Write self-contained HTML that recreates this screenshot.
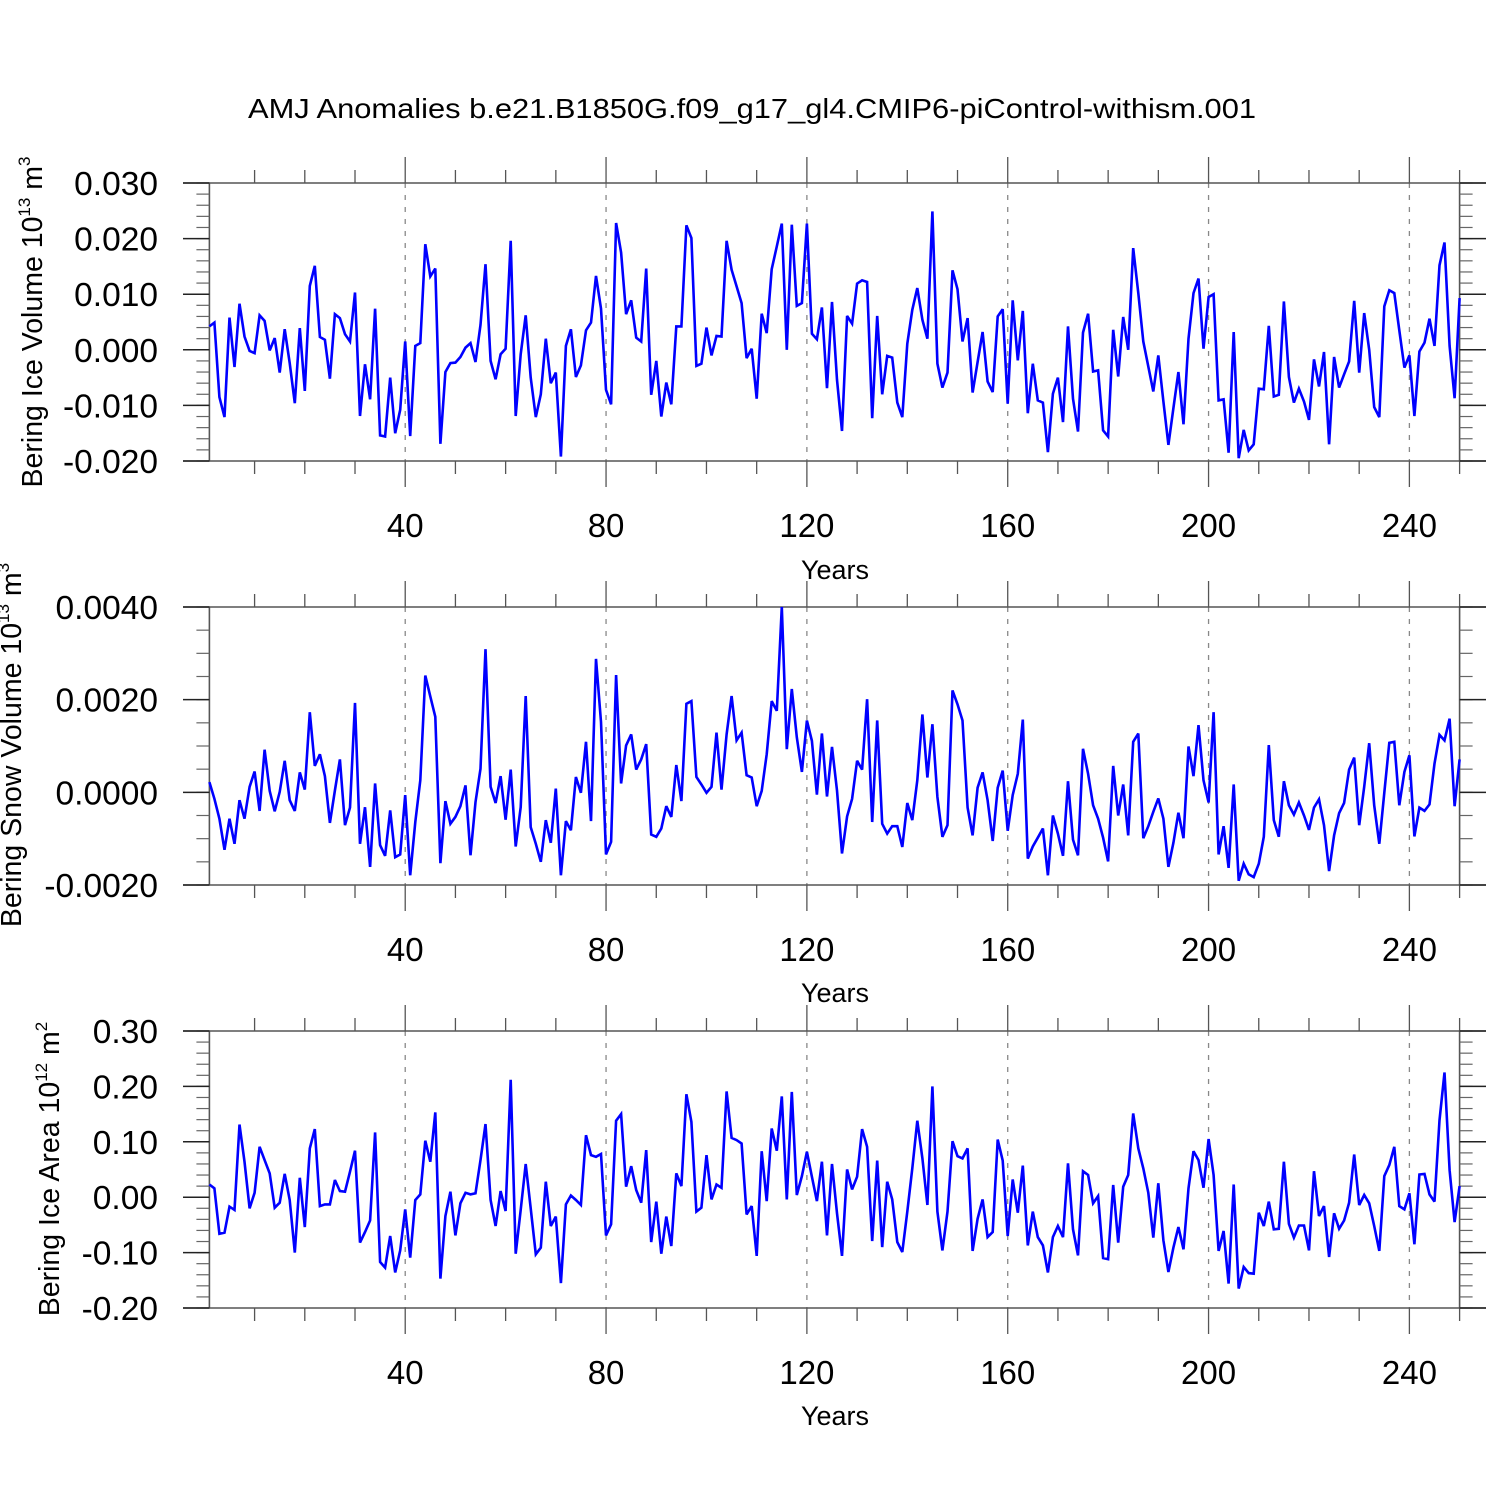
<!DOCTYPE html>
<html><head><meta charset="utf-8">
<style>
html,body{margin:0;padding:0;background:#fff;}
svg{display:block;font-family:"Liberation Sans",Arial,sans-serif;}
</style></head>
<body>
<svg id="chart" width="1500" height="1500" viewBox="0 0 1500 1500" xmlns="http://www.w3.org/2000/svg">
<rect width="1500" height="1500" fill="#fff"/>
<text x="752" y="118" font-size="28" text-anchor="middle" textLength="1008" lengthAdjust="spacingAndGlyphs">AMJ Anomalies b.e21.B1850G.f09_g17_gl4.CMIP6-piControl-withism.001</text>
<g id="panels"></g>
</svg>
<script>
// Years 1..250
const xTickLabels = ["40","80","120","160","200","240"];
const xMajorYears = [40,80,120,160,200,240];

// Panel 1: Bering Ice Volume (units of 0.001 x 10^13 m^3)
const iceVolume = [4.2,4.9,-8.5,-12.1,5.8,-3.1,8.3,2.4,-0.2,-0.6,6.2,5.2,-0.1,2.1,-4.1,3.7,-2.4,-9.6,3.9,-7.4,
11.5,15.1,2.3,1.8,-5.2,6.4,5.7,2.8,1.5,10.3,-11.9,-2.6,-8.9,7.4,-15.4,-15.6,-5.0,-15.0,-10.8,1.5,
-15.5,0.7,1.2,19.0,13.2,14.6,-16.9,-4.0,-2.4,-2.3,-1.3,0.4,1.2,-2.2,4.5,15.4,-2.0,-5.3,-0.8,0.2,
19.6,-11.9,-0.8,6.2,-5.0,-12.1,-8.0,2.0,-6.0,-4.1,-19.2,0.7,3.7,-4.9,-2.8,3.5,4.9,13.3,7.4,-7.2,
-9.8,22.8,17.5,6.4,8.9,2.2,1.5,14.6,-8.1,-2.0,-12.0,-5.9,-9.8,4.2,4.2,22.4,20.1,-2.9,-2.5,4.0,
-1.0,2.5,2.4,19.6,14.4,11.4,8.4,-1.5,0.2,-8.8,6.5,3.0,14.5,18.6,22.7,0.0,22.5,7.9,8.4,22.7,
2.9,1.9,7.6,-6.9,8.6,-5.4,-14.6,6.1,4.7,11.9,12.5,12.2,-12.3,6.1,-8.0,-1.1,-1.4,-9.5,-12.1,1.1,
7.2,11.1,5.4,2.0,24.9,-2.5,-6.8,-4.1,14.3,10.9,1.5,5.7,-7.7,-2.2,3.2,-5.7,-7.6,6.0,7.3,-9.7,
8.9,-1.9,7.0,-11.4,-2.5,-9.1,-9.5,-18.4,-7.9,-5.0,-13.0,4.2,-8.8,-14.7,3.1,6.5,-3.9,-3.7,-14.5,-15.6,
3.6,-4.8,5.9,0.0,18.3,10.2,1.5,-3.0,-7.5,-1.0,-9.3,-17.1,-10.5,-4.0,-13.4,2.0,10.2,12.8,0.2,9.5,
10.0,-9.1,-8.9,-18.5,3.2,-19.5,-14.4,-18.1,-17.0,-7.0,-7.1,4.3,-8.4,-8.1,8.7,-4.9,-9.5,-7.0,-9.3,-12.6,
-1.7,-6.6,-0.4,-17.0,-1.3,-6.8,-4.4,-2.1,8.8,-4.1,6.6,0.0,-10.3,-12.1,7.8,10.7,10.2,3.5,-3.2,-1.0,
-11.9,-0.3,1.3,5.6,0.7,15.2,19.3,0.7,-8.7,9.3];
const p1TickValues = [30,20,10,0,-10,-20];
const p1TickLabels = ["0.030","0.020","0.010","0.000","-0.010","-0.020"];

// Panel 2: Bering Snow Volume (units of 0.0001 x 10^13 m^3)
const snowVolume = [2.2,-1.4,-5.7,-12.4,-5.7,-11.1,-1.7,-5.7,1.2,4.5,-4.0,9.2,0.3,-4.1,0.1,6.8,-1.7,-4.0,4.3,0.6,
17.3,5.7,8.2,3.5,-6.6,0.4,7.1,-7.1,-3.3,19.3,-11.1,-3.2,-16.1,1.9,-11.4,-13.7,-3.9,-14.0,-13.4,-0.6,
-17.9,-6.4,2.6,25.2,20.7,16.3,-15.3,-1.9,-6.8,-5.3,-3.0,1.5,-13.6,-2.1,5.1,30.9,1.2,-2.3,3.5,-5.9,
4.9,-11.7,-3.2,20.8,-7.5,-11.1,-15.0,-6.0,-10.9,0.8,-17.9,-6.2,-8.2,3.3,-0.1,10.9,-6.2,28.8,15.2,-13.4,
-10.7,25.3,1.9,10.1,12.5,4.9,7.1,10.4,-9.1,-9.6,-7.8,-3.0,-5.3,5.9,-1.9,19.1,19.7,3.3,1.7,-0.1,
1.2,12.9,0.6,12.5,20.8,11.2,12.9,3.7,3.2,-3.0,0.3,8.2,19.7,17.6,40.0,9.3,22.3,11.9,4.4,15.5,
11.1,-0.5,12.7,-0.9,9.8,0.4,-13.2,-5.2,-1.4,6.8,4.9,20.1,-6.4,15.5,-6.8,-8.9,-7.3,-7.3,-11.8,-2.3,
-6.0,2.6,16.8,3.2,14.7,-1.0,-9.6,-7.1,22.0,19.0,15.5,-3.3,-9.3,1.0,4.3,-1.7,-10.5,1.0,4.7,-8.3,
-0.6,4.0,15.7,-14.3,-11.7,-9.8,-7.8,-17.9,-5.0,-8.9,-13.7,2.4,-10.2,-13.6,9.4,4.0,-2.8,-5.7,-9.8,-14.9,
5.7,-5.0,1.7,-9.3,10.9,12.7,-9.9,-7.3,-4.2,-1.3,-5.7,-16.1,-10.9,-4.4,-9.9,9.9,3.5,14.5,2.6,-2.2,
17.3,-13.4,-7.3,-16.3,1.7,-19.1,-15.4,-17.7,-18.3,-15.4,-9.6,10.2,-6.0,-9.6,2.4,-2.8,-4.8,-2.2,-5.0,-8.1,
-3.3,-1.5,-7.1,-17.0,-9.3,-4.5,-2.3,4.9,7.5,-7.1,1.2,10.6,-2.8,-11.1,-0.1,10.7,10.9,-2.8,4.4,8.0,
-9.5,-3.3,-4.0,-2.6,6.2,12.4,11.2,15.9,-3.0,7.1];
const p2TickValues = [40,20,0,-20];
const p2TickLabels = ["0.0040","0.0020","0.0000","-0.0020"];

// Panel 3: Bering Ice Area (units of 0.01 x 10^12 m^2)
const iceArea = [2.3,1.6,-6.6,-6.4,-1.7,-2.3,13.1,6.4,-2.0,0.8,9.1,6.7,4.3,-1.9,-1.0,4.2,-0.5,-10.0,3.5,-5.4,
8.8,12.3,-1.6,-1.3,-1.3,3.1,1.1,1.0,4.6,8.4,-8.2,-6.3,-4.2,11.7,-11.7,-12.7,-7.0,-13.6,-9.6,-2.2,
-10.9,-0.5,0.5,10.2,6.4,15.3,-14.7,-3.4,1.0,-6.9,-1.1,0.8,0.5,0.7,6.7,13.2,-0.5,-5.2,1.1,-2.5,
21.2,-10.2,-2.3,6.0,-2.0,-10.3,-9.1,2.8,-5.2,-3.5,-15.5,-1.3,0.3,-0.5,-1.4,11.2,7.6,7.3,7.8,-6.9,
-4.9,13.8,15.0,1.9,5.6,1.3,-1.0,8.5,-8.1,-0.8,-10.2,-3.5,-8.8,4.3,2.0,18.6,13.6,-2.6,-1.9,7.6,
-0.4,2.3,1.7,19.1,10.7,10.3,9.7,-3.1,-1.6,-10.6,8.3,-0.7,12.4,8.4,18.2,-0.4,19.0,0.4,3.8,8.2,
3.7,-0.7,6.4,-6.9,6.0,-2.9,-10.6,5.0,1.4,3.7,12.3,9.1,-7.9,6.6,-9.0,2.8,-0.4,-8.1,-9.9,-2.6,
5.2,13.8,7.0,-1.4,20.0,-2.6,-9.6,-2.6,10.1,7.4,7.0,8.8,-9.7,-3.9,-0.4,-7.2,-6.3,10.4,6.6,-7.0,
3.2,-2.8,5.7,-8.7,-2.6,-7.2,-8.7,-13.6,-7.2,-5.2,-7.2,6.1,-5.8,-10.5,4.7,4.0,-1.1,0.2,-11.0,-11.2,
2.2,-8.2,1.9,4.0,15.1,8.8,5.2,0.8,-7.3,2.5,-7.8,-13.5,-9.1,-5.4,-9.4,1.6,8.3,6.7,1.7,10.5,
4.0,-9.7,-6.1,-15.6,2.3,-16.5,-12.6,-13.7,-13.8,-2.8,-5.2,-0.8,-5.8,-5.7,6.4,-4.8,-7.3,-5.1,-5.1,-9.6,
4.7,-3.4,-1.6,-10.8,-2.9,-5.7,-4.2,-1.0,7.7,-1.4,0.4,-1.1,-5.2,-9.7,3.8,5.8,9.1,-1.6,-2.2,0.7,
-8.5,4.1,4.2,0.5,-0.8,13.9,22.5,4.9,-4.5,2.0];
const p3TickValues = [30,20,10,0,-10,-20];
const p3TickLabels = ["0.30","0.20","0.10","0.00","-0.10","-0.20"];

const NS = "http://www.w3.org/2000/svg";
const L = 209.4, R = 1459.6;
function xScale(year){ return L + (year - 1) * (R - L) / 249; }

const panels = [
  {name:"ice-volume", data:iceVolume, top:183, bottom:461, ymax:30, ymin:-20, minorStep:2,
   ticks:p1TickValues, labels:p1TickLabels, xlabY:537, yearsY:579,
   titleX:42, titleY:322, title:["Bering Ice Volume 10","13"," m","3"]},
  {name:"snow-volume", data:snowVolume, top:607, bottom:885, ymax:40, ymin:-20, minorStep:5,
   ticks:p2TickValues, labels:p2TickLabels, xlabY:961, yearsY:1002,
   titleX:21, titleY:745, title:["Bering Snow Volume 10","13"," m","3"]},
  {name:"ice-area", data:iceArea, top:1031, bottom:1308, ymax:30, ymin:-20, minorStep:2,
   ticks:p3TickValues, labels:p3TickLabels, xlabY:1384, yearsY:1425,
   titleX:59, titleY:1169, title:["Bering Ice Area 10","12"," m","2"]}
];

function mk(tag, attrs, parent){
  const e = document.createElementNS(NS, tag);
  for (const k in attrs) e.setAttribute(k, attrs[k]);
  parent.appendChild(e);
  return e;
}

const root = document.getElementById("panels");
panels.forEach(p => {
  const g = mk("g", {}, root);
  
  
  const yScale = v => p.bottom - (v - p.ymin) * (p.bottom - p.top) / (p.ymax - p.ymin);

  xMajorYears.forEach(yr => {
    const ln = mk("line", {x1:xScale(yr), x2:xScale(yr), y1:p.top, y2:p.bottom, stroke:"#888", "stroke-width":1.3, "stroke-dasharray":"5,7"}, g);
    
    
  });

  const axesColor = "#555";
  const hl1 = mk("line", {x1:183, x2:1486, y1:p.top, y2:p.top, stroke:axesColor, "stroke-width":1.6}, g);
  
  
  const hl2 = mk("line", {x1:183, x2:1486, y1:p.bottom, y2:p.bottom, stroke:axesColor, "stroke-width":1.6}, g);
  
  
  const vl1 = mk("line", {x1:L, x2:L, y1:p.top, y2:p.bottom, stroke:axesColor, "stroke-width":1.6}, g);
  
  
  const vl2 = mk("line", {x1:R, x2:R, y1:p.top, y2:p.bottom, stroke:axesColor, "stroke-width":1.6}, g);
  
  

  for (let yr = 10; yr <= 250; yr += 10) {
    const major = yr % 40 === 0;
    const len = major ? 26 : 13;
    const t1 = mk("line", {x1:xScale(yr), x2:xScale(yr), y1:p.top, y2:p.top - len, stroke:axesColor, "stroke-width":1.3}, g);
    
    
    const t2 = mk("line", {x1:xScale(yr), x2:xScale(yr), y1:p.bottom, y2:p.bottom + len, stroke:axesColor, "stroke-width":1.3}, g);
    
    
  }
  xMajorYears.forEach((yr, i) => {
    const t = mk("text", {x:xScale(yr), y:p.xlabY, "font-size":33, "text-anchor":"middle"}, g);
    t.textContent = xTickLabels[i];
    
    
  });
  const yr = mk("text", {x:835, y:p.yearsY, "font-size":27, "text-anchor":"middle"}, g);
  yr.textContent = "Years";
  
  

  for (let v = p.ymin; v <= p.ymax + 1e-9; v += p.minorStep) {
    const y = yScale(v);
    const m1 = mk("line", {x1:L - 13, x2:L, y1:y, y2:y, stroke:"#666", "stroke-width":1.2}, g);
    
    
    const m2 = mk("line", {x1:R, x2:R + 13, y1:y, y2:y, stroke:"#666", "stroke-width":1.2}, g);
    
    
  }
  p.ticks.forEach((v, i) => {
    const y = yScale(v);
    const a = mk("line", {x1:183, x2:L, y1:y, y2:y, stroke:"#222", "stroke-width":1.5}, g);
    
    
    const b = mk("line", {x1:R, x2:1486, y1:y, y2:y, stroke:"#222", "stroke-width":1.5}, g);
    
    
    const t = mk("text", {x:158, y:y + 12, "font-size":33.5, "text-anchor":"end"}, g);
    t.textContent = p.labels[i];
    
    
  });

  const tt = mk("text", {x:0, y:0, "font-size":28.5, "text-anchor":"middle", transform:"translate(" + p.titleX + "," + p.titleY + ") rotate(-90)"}, g);
  
  
  const s1 = mk("tspan", {}, tt); s1.textContent = p.title[0];
  const s2 = mk("tspan", {"font-size":17, dy:-12}, tt); s2.textContent = p.title[1];
  const s3 = mk("tspan", {dy:12}, tt); s3.textContent = p.title[2];
  const s4 = mk("tspan", {"font-size":17, dy:-12}, tt); s4.textContent = p.title[3];

  const pts = p.data.map((v, i) => xScale(i + 1).toFixed(1) + "," + yScale(v).toFixed(1)).join(" ");
  const line = mk("polyline", {points:pts, fill:"none", stroke:"#0000ff", "stroke-width":2.6, "stroke-linejoin":"miter", "stroke-miterlimit":3}, g);
  
  
});
</script>
</body></html>
